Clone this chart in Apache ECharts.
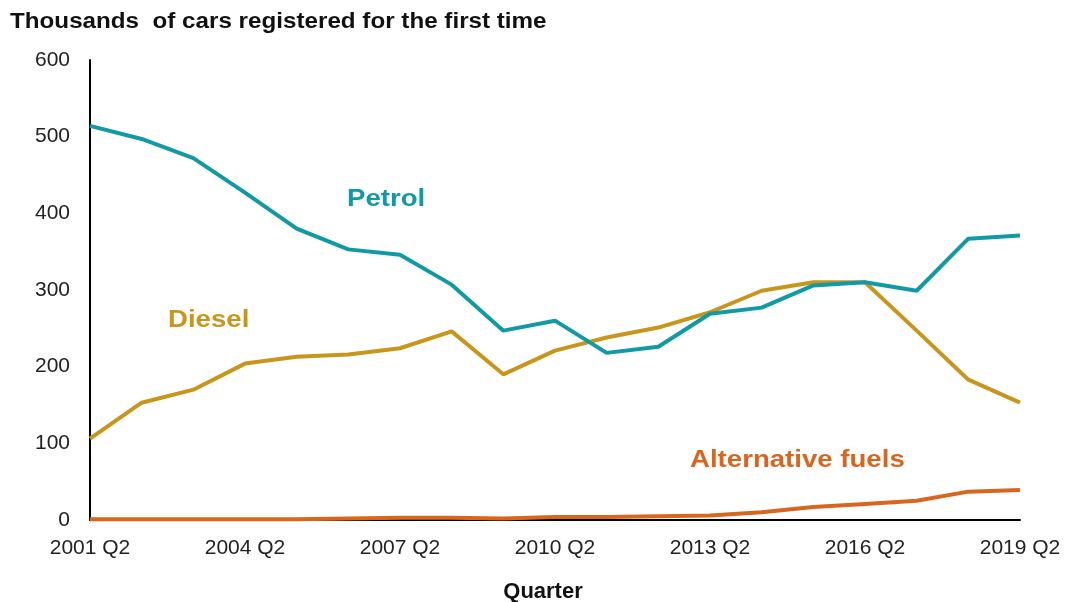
<!DOCTYPE html>
<html>
<head>
<meta charset="utf-8">
<script src="https://cdn.jsdelivr.net/npm/echarts@6/dist/echarts.min.js"></script>
<style>
  html, body { margin: 0; padding: 0; background: #fff; }
  #chart { width: 1076px; height: 602px; }
</style>
</head>
<body>
<div id="chart"></div>
<script>
// quarters, annual steps
let quarters = ['2001 Q2', '2002 Q2', '2003 Q2', '2004 Q2', '2005 Q2', '2006 Q2', '2007 Q2',
  '2008 Q2', '2009 Q2', '2010 Q2', '2011 Q2', '2012 Q2', '2013 Q2', '2014 Q2', '2015 Q2',
  '2016 Q2', '2017 Q2', '2018 Q2', '2019 Q2']
let petrol = [514, 497, 472, 427, 380, 353, 346, 307, 247, 260, 218, 226, 269, 277, 306, 310, 299, 367, 371]
let diesel = [106, 153, 170, 204, 213, 216, 224, 246, 190, 221, 238, 251, 271, 299, 310, 310, 247, 183, 153]
let altFuels = [1, 1, 1, 1, 1, 2, 3, 3, 2, 4, 4, 5, 6, 10, 17, 21, 25, 37, 39]

let font = '"Liberation Sans", Arial, sans-serif'
let colPetrol = '#0f9aa6'
let colDiesel = '#c9961c'
let colAlt = '#d9661f'

let myChart = echarts.init(document.getElementById('chart'))
let lineSeries = function (name, data, color) {
  return {
    name: name,
    type: 'line',
    data: data,
    symbol: 'none',
    lineStyle: { color: color, width: 4 },
    itemStyle: { color: color },
    z: name === 'Alternative fuels' ? 1 : 2
  }
}
// the reference text is a little wide, so stretch it a bit
let label = function (text, x, y, size, color, stretch) {
  return {
    type: 'text',
    x: x,
    y: y,
    scaleX: stretch,
    style: {
      text: text,
      x: 0,
      y: 0,
      font: 'bold ' + size + 'px ' + font,
      fill: color,
      textAlign: 'left',
      textVerticalAlign: 'middle'
    }
  }
}
let option = {
  animation: false,
  grid: { left: 90, right: 56, top: 60, bottom: 82, outerBoundsMode: 'none', containLabel: false },
  xAxis: {
    type: 'category',
    data: quarters,
    boundaryGap: false,
    name: 'Quarter',
    nameLocation: 'middle',
    nameGap: 61,
    nameTextStyle: { fontFamily: font, fontSize: 22, fontWeight: 'bold', color: '#111', padding: [0, 24, 0, 0] },
    axisLine: { lineStyle: { color: '#000', width: 2 } },
    axisTick: { show: false },
    axisLabel: {
      interval: 2,
      margin: 18,
      fontFamily: font,
      fontSize: 21,
      color: '#222'
    },
    splitLine: { show: false }
  },
  yAxis: {
    type: 'value',
    min: 0,
    max: 600,
    interval: 100,
    axisLine: { show: true, lineStyle: { color: '#000', width: 2 } },
    axisTick: { show: false },
    axisLabel: { margin: 20, fontFamily: font, fontSize: 21, color: '#222' },
    splitLine: { show: false }
  },
  graphic: [
    label('Thousands  of cars registered for the first time', 10, 22, 22, '#111', 1.1),
    label('Petrol', 347, 199, 24, colPetrol, 1.15),
    label('Diesel', 168, 320, 24, colDiesel, 1.15),
    label('Alternative fuels', 690, 460, 24, colAlt, 1.15)
  ],
  series: [
    lineSeries('Alternative fuels', altFuels, colAlt),
    lineSeries('Diesel', diesel, colDiesel),
    lineSeries('Petrol', petrol, colPetrol)
  ]
}
myChart.setOption(option)
</script>
</body>
</html>
